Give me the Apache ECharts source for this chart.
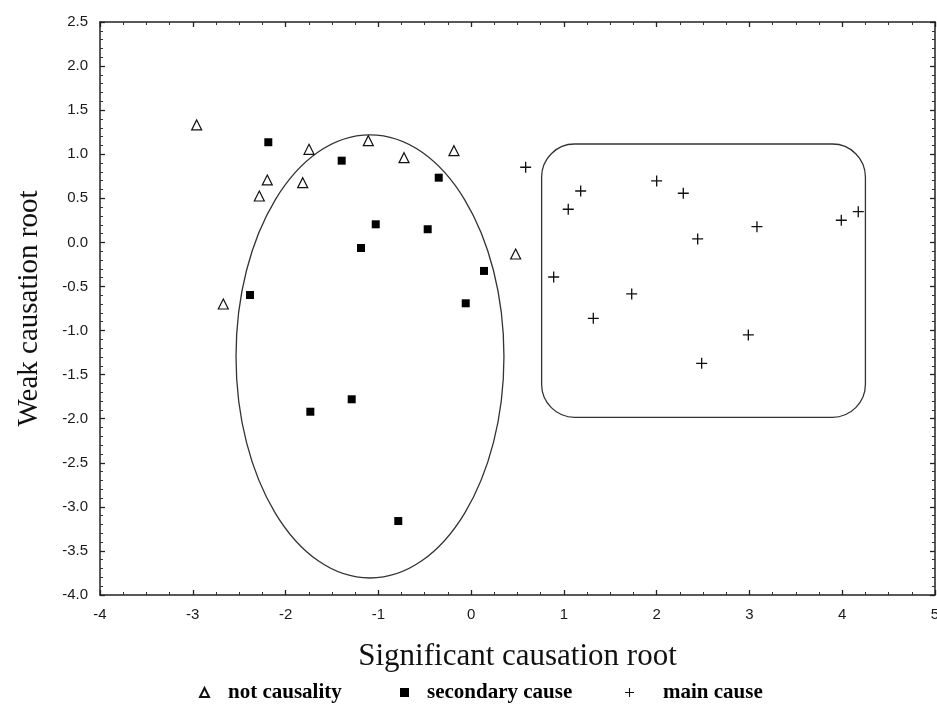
<!DOCTYPE html>
<html>
<head>
<meta charset="utf-8">
<script src="https://cdn.jsdelivr.net/npm/echarts@6/dist/echarts.min.js"></script>
<style>html,body{margin:0;padding:0;background:#fff}#c{width:937px;height:707px}</style>
</head>
<body>
<div id="c"></div>
<script>
// ---- data ----
var notCausality = [
  [-2.958, 1.332], [-1.747, 1.056], [-2.197, 0.708], [-1.815, 0.677], [-2.283, 0.526],
  [-2.671, -0.699], [-1.108, 1.154], [-0.723, 0.961], [-0.185, 1.040], [0.480, -0.132]
];
var secondaryCause = [
  [-2.186, 1.136], [-2.383, -0.597], [-1.395, 0.927], [-0.349, 0.734], [-1.028, 0.205],
  [-0.468, 0.149], [-1.187, -0.064], [0.139, -0.324], [-0.058, -0.691], [-1.287, -1.780],
  [-1.733, -1.921], [-0.785, -3.161]
];
var mainCause = [
  [0.588, 0.852], [1.181, 0.583], [1.047, 0.376], [2.000, 0.697], [2.287, 0.557],
  [4.173, 0.348], [3.990, 0.251], [3.081, 0.178], [2.442, 0.039], [0.890, -0.393],
  [1.731, -0.585], [1.317, -0.861], [2.988, -1.050], [2.485, -1.372]
];
// ellipse: centre x, centre y, radius x, radius y (data units)
var ellipseShape = [[-1.09, -1.294, 1.444, 2.513]];
// rounded rectangle: x min, y max, x max, y min (data units)
var roundRect = [[0.76, 1.116, 4.25, -1.984]];
var xTicks = { min: -4, max: 5, interval: 1 };
var yTicks = { min: -4, max: 2.5, interval: 0.5 };
var seriesNames = ['not causality', 'secondary cause', 'main cause'];

var chart = echarts.init(document.getElementById('c'), null, { renderer: 'canvas' });
var axisLineStyle = { color: '#222', width: 1.5 };
var tickStyle = { show: true, inside: true, length: 5, lineStyle: { color: '#222', width: 1.3 } };
var minorLine = { color: '#333', width: 1 };
var labelStyle = { fontFamily: 'Liberation Sans', fontSize: 15, color: '#1a1a1a' };

function xAx(pos, labels) {
  return {
    type: 'value', position: pos, min: xTicks.min, max: xTicks.max, interval: xTicks.interval,
    axisLine: { show: true, lineStyle: axisLineStyle, onZero: false },
    axisTick: tickStyle,
    minorTick: { show: true, splitNumber: 4, length: 3, lineStyle: minorLine },
    splitLine: { show: false }, minorSplitLine: { show: false },
    axisLabel: Object.assign({ show: labels, margin: 12 }, labelStyle)
  };
}
function yAx(pos, labels) {
  return {
    type: 'value', position: pos, min: yTicks.min, max: yTicks.max, interval: yTicks.interval,
    axisLine: { show: true, lineStyle: axisLineStyle, onZero: false },
    axisTick: tickStyle,
    minorTick: { show: true, splitNumber: 5, length: 3, lineStyle: minorLine },
    splitLine: { show: false }, minorSplitLine: { show: false },
    axisLabel: Object.assign({ show: labels, margin: 12, formatter: function (v) { return v.toFixed(1); } }, labelStyle)
  };
}
var xMain = xAx('bottom', true);
xMain.name = 'Significant causation root';
xMain.nameLocation = 'middle';
xMain.nameGap = 46;
xMain.nameTextStyle = { fontFamily: 'Liberation Serif', fontSize: 31, color: '#111' };
var yMain = yAx('left', true);
yMain.name = 'Weak causation root';
yMain.nameLocation = 'middle';
yMain.nameGap = 56;
yMain.nameTextStyle = { fontFamily: 'Liberation Serif', fontSize: 29, color: '#111' };

function leg(name, left, pad) {
  return {
    data: [name], left: left, top: 677, itemWidth: 9, itemHeight: 9, selectedMode: false,
    textStyle: { fontFamily: 'Liberation Serif', fontWeight: 'bold', fontSize: 21, color: '#000', padding: [0, 0, 0, pad] }
  };
}

var plusPath = 'path://M4.4,0h1.2v4.4h4.4v1.2h-4.4v4.4h-1.2v-4.4h-4.4v-1.2h4.4z';

chart.setOption({
  animation: false,
  backgroundColor: '#fff',
  grid: { left: 100, right: 2, top: 22, bottom: 112, containLabel: false, outerBoundsMode: 'none' },
  xAxis: [xMain, xAx('top', false)],
  yAxis: [yMain, yAx('right', false)],
  legend: [leg(seriesNames[0], 194, 14), leg(seriesNames[1], 395, 13), leg(seriesNames[2], 620, 24)],
  series: [
    {
      type: 'custom', silent: true, z: 1,
      data: ellipseShape,
      renderItem: function (params, api) {
        var c = api.coord([api.value(0), api.value(1)]);
        var e = api.coord([api.value(0) + api.value(2), api.value(1) + api.value(3)]);
        return { type: 'ellipse', shape: { cx: c[0], cy: c[1], rx: e[0] - c[0], ry: c[1] - e[1] },
          style: { fill: 'none', stroke: '#333', lineWidth: 1.3 } };
      }
    },
    {
      type: 'custom', silent: true, z: 1,
      data: roundRect,
      renderItem: function (params, api) {
        var a = api.coord([api.value(0), api.value(1)]);
        var b = api.coord([api.value(2), api.value(3)]);
        return { type: 'rect', shape: { x: a[0], y: a[1], width: b[0] - a[0], height: b[1] - a[1], r: 33 },
          style: { fill: 'none', stroke: '#333', lineWidth: 1.3 } };
      }
    },
    {
      name: seriesNames[0], type: 'scatter', data: notCausality, symbol: 'triangle', symbolSize: 10, z: 3,
      itemStyle: { color: '#fff', borderColor: '#111', borderWidth: 1.2, opacity: 1 }
    },
    {
      name: seriesNames[1], type: 'scatter', data: secondaryCause, symbol: 'rect', symbolSize: 8, z: 3,
      itemStyle: { color: '#000', opacity: 1 }
    },
    {
      name: seriesNames[2], type: 'scatter', data: mainCause, symbol: plusPath, symbolSize: 11, z: 3,
      itemStyle: { color: '#111', opacity: 1 }
    }
  ]
});
</script>
</body>
</html>
